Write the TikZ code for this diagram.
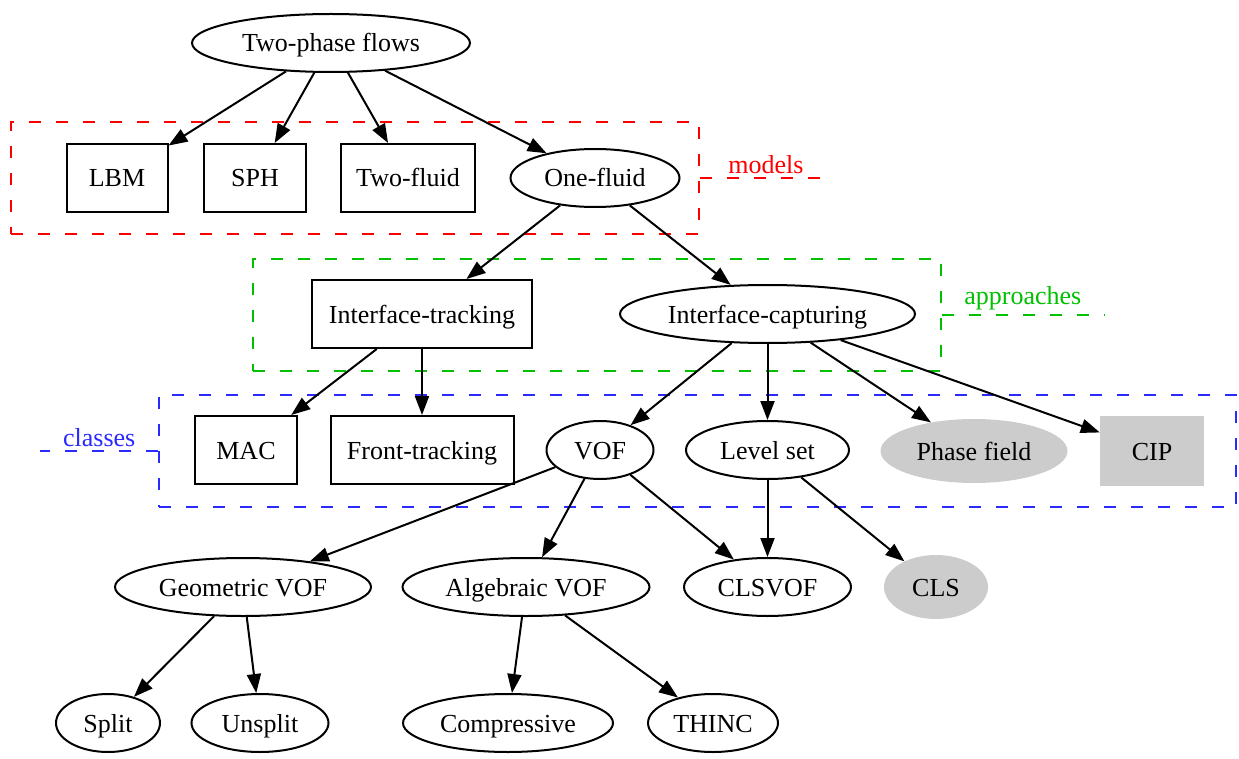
\documentclass[tikz,border=0pt]{standalone}
\usepackage{fontspec}
\setmainfont{Liberation Serif}
\usetikzlibrary{shapes.geometric, arrows.meta}
\definecolor{tpred}{HTML}{FF0000}
\definecolor{tpgreen}{HTML}{00C000}
\definecolor{tpblue}{HTML}{2A2AFF}
\definecolor{tpgrey}{HTML}{CCCCCC}
\tikzset{
  oval/.style={ellipse, draw=black, line width=2pt, inner sep=0pt, minimum height=58pt,
               text height=20pt, text depth=2pt},
  sqbox/.style={rectangle, draw=black, line width=2pt, inner sep=0pt, minimum height=68pt,
               text height=20pt, text depth=2pt},
  greyoval/.style={ellipse, fill=tpgrey, inner sep=0pt, minimum height=64pt,
               text height=20pt, text depth=2pt},
  greybox/.style={rectangle, fill=tpgrey, inner sep=0pt, minimum height=70pt,
               text height=20pt, text depth=2pt},
  lnk/.style={-{Triangle[length=19pt, width=14pt]}, line width=2pt},
  dashln/.style={dash pattern=on 12pt off 15pt, line width=1.3pt},
  cluster/.style={rectangle, dashln, inner sep=0pt, minimum height=112pt},
  clusterlbl/.style={midway, above, inner sep=4pt},
}
\begin{document}
\begin{tikzpicture}[x=1pt, y=-1pt, every node/.style={font=\fontsize{26}{30}\selectfont}]
      \useasboundingbox (0,0) rectangle (1239,759);
      % clusters
      \node[cluster, draw=tpred, minimum width=688pt] (models) at (355,178) {};
      \node[cluster, draw=tpgreen, minimum width=688pt] (approaches) at (597,315) {};
      \node[cluster, draw=tpblue, minimum width=1077pt] (classes) at (697.5,451) {};
      \coordinate (modelsend) at (832,178);
      \coordinate (approachesend) at (1104,315);
      \coordinate (classesend) at (40,451);
      \draw[dashln, tpred] (models.east) -- (modelsend) node[clusterlbl, text=tpred] {models};
      \draw[dashln, tpgreen] (approaches.east) -- (approachesend) node[clusterlbl, text=tpgreen] {approaches};
      \draw[dashln, tpblue] (classes.west) -- (classesend) node[clusterlbl, text=tpblue] {classes};
      % nodes
      \node[oval, minimum width=278pt] (tpf) at (331,43) {Two-phase flows};
      \node[sqbox, minimum width=101pt] (lbm) at (117,178) {LBM};
      \node[sqbox, minimum width=102pt] (sph) at (255,178) {SPH};
      \node[sqbox, minimum width=134pt] (twofl) at (408,178) {Two-fluid};
      \node[oval, minimum width=169pt] (onefl) at (595,178) {One-fluid};
      \node[sqbox, minimum width=220pt] (itrack) at (422,314) {Interface-tracking};
      \node[oval, minimum width=295pt] (icapt) at (767.5,314) {Interface-capturing};
      \node[sqbox, minimum width=102pt] (mac) at (246,450) {MAC};
      \node[sqbox, minimum width=183pt] (front) at (422,450) {Front-tracking};
      \node[oval, minimum width=107pt] (vof) at (600,450) {VOF};
      \node[oval, minimum width=163pt] (lset) at (767.5,450) {Level set};
      \node[greyoval, minimum width=187pt] (pfield) at (974,451) {Phase field};
      \node[greybox, minimum width=104pt] (cip) at (1152,451) {CIP};
      \node[oval, minimum width=256pt] (gvof) at (243,587) {Geometric VOF};
      \node[oval, minimum width=247pt] (avof) at (526,587) {Algebraic VOF};
      \node[oval, minimum width=167pt] (clsvof) at (767.5,587) {CLSVOF};
      \node[greyoval, minimum width=104pt] (cls) at (936,587) {CLS};
      \node[oval, minimum width=104pt] (split) at (108,723) {Split};
      \node[oval, minimum width=137pt] (unsplit) at (260,723) {Unsplit};
      \node[oval, minimum width=210pt] (compr) at (508,723) {Compressive};
      \node[oval, minimum width=130pt] (thinc) at (713,723) {THINC};
      % edges
      \draw[lnk] (tpf) -- (lbm);
      \draw[lnk] (tpf) -- (sph);
      \draw[lnk] (tpf) -- (twofl);
      \draw[lnk] (tpf) -- (onefl);
      \draw[lnk] (onefl) -- (itrack);
      \draw[lnk] (onefl) -- (icapt);
      \draw[lnk] (itrack) -- (mac);
      \draw[lnk] (itrack) -- (front);
      \draw[lnk] (icapt) -- (vof);
      \draw[lnk] (icapt) -- (lset);
      \draw[lnk] (icapt) -- (pfield);
      \draw[lnk] (icapt) -- (cip);
      \draw[lnk] (vof) -- (gvof);
      \draw[lnk] (vof) -- (avof);
      \draw[lnk] (vof) -- (clsvof);
      \draw[lnk] (lset) -- (clsvof);
      \draw[lnk] (lset) -- (cls);
      \draw[lnk] (gvof) -- (split);
      \draw[lnk] (gvof) -- (unsplit);
      \draw[lnk] (avof) -- (compr);
      \draw[lnk] (avof) -- (thinc);
    \end{tikzpicture}
\end{document}
